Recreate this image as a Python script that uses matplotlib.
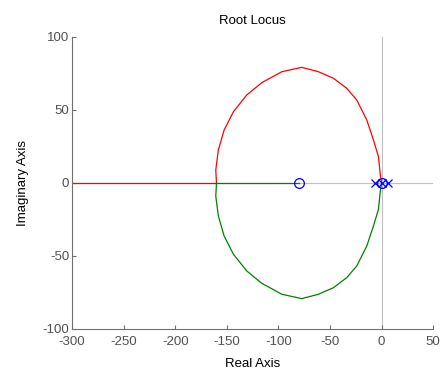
import numpy as np
import matplotlib
matplotlib.use("Agg")
import matplotlib.pyplot as plt

plt.rcParams['font.family'] = ['Liberation Sans', 'DejaVu Sans']
plt.rcParams['axes.unicode_minus'] = False

# upper branch of the locus, lower is its mirror
upper_re = [-160.0, -160.7, -158.2, -152.6, -143.6, -130.6, -116.1, -96.7, -77.3,
            -61.2, -46.6, -33.7, -24.0, -14.3, -7.9, -3.0, -1.4, 0.0]
upper_im = [0.0, 8.9, 22.6, 36.3, 48.8, 60.3, 68.7, 76.2, 79.2,
            76.2, 71.7, 64.8, 56.8, 43.1, 29.5, 18.0, 6.6, 0.0]

# real-axis branches
red_real = [-300, -160]
green_real = [-160, -80]

poles = [-6, 0, 6]
zeros = [-80, 0]

fig = plt.figure(figsize=(4.42, 3.72), dpi=100)
ax = fig.add_axes([0.163, 0.1156, 0.817, 0.785])

ax.axhline(0, color='#c0c0c0', lw=0.8, zorder=0)
ax.axvline(0, color='#c0c0c0', lw=0.8, zorder=0)

ax.plot(red_real, [0, 0], color='red', lw=0.9)
ax.plot(upper_re[::-1], upper_im[::-1], color='red', lw=0.9)
ax.plot(green_real, [0, 0], color='green', lw=0.9)
ax.plot(upper_re, [-v for v in upper_im], color='green', lw=0.9)

ax.plot(poles, [0] * len(poles), 'x', color='blue', ms=6, mew=0.9)
ax.plot(zeros, [0] * len(zeros), 'o', mfc='none', mec='blue', ms=7, mew=0.9)

ax.set_xlim(-300, 50)
ax.set_ylim(-100, 100)
ax.set_xticks(np.arange(-300, 51, 50))
ax.set_yticks(np.arange(-100, 101, 50))

for s in ['top', 'right']:
    ax.spines[s].set_visible(False)
for s in ['left', 'bottom']:
    ax.spines[s].set_color('#707070')
ax.tick_params(direction='in', length=3, colors='#707070', labelcolor='#505050',
               labelsize=9.5, pad=2)
ax.tick_params(axis='x', pad=5)

ax.set_title('Root Locus', fontsize=9.5, pad=9)
ax.set_xlabel('Real Axis', fontsize=9.5, labelpad=7)
ax.set_ylabel('Imaginary Axis', fontsize=9.5, labelpad=10)

fig.savefig('out.png', dpi=100)
